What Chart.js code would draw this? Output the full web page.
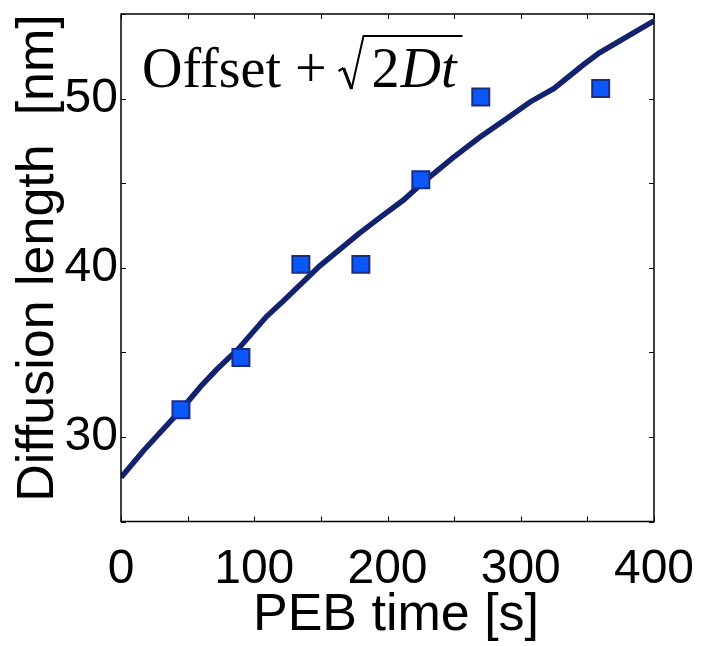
<!DOCTYPE html>
<html>
<head>
<meta charset="utf-8">
<script src="https://cdn.jsdelivr.net/npm/chart.js@4"></script>
<style>
  html, body { margin: 0; padding: 0; background: #fff; }
  #wrap { width: 702px; height: 646px; }
</style>
</head>
<body>
<div id="wrap"><canvas id="chart" width="702" height="646"></canvas></div>
<script>
// measured points
const pebTime = [45, 90, 135, 180, 225, 270, 360];
const diffLength = [31.6, 34.7, 40.2, 40.2, 45.2, 50.1, 50.6];

// fit curve
const fitTime = [0, 17, 45, 60, 72, 88, 109, 122, 149, 179, 194, 212, 226, 249, 269, 289, 307, 325, 347, 359, 374, 400];
const fitLength = [27.6, 29.2, 31.6, 33.0, 34.0, 35.2, 37.1, 38.05, 40.1, 42.05, 42.95, 44.0, 45.0, 46.5, 47.7, 48.8, 49.8, 50.6, 52.0, 52.7, 53.4, 54.6];

const xLabel = 'PEB time [s]';
const yLabel = 'Diffusion length  [nm]';

const SANS = '"Liberation Sans", Arial, Helvetica, sans-serif';
const SERIF = '"Liberation Serif", "Times New Roman", serif';

// box + inward tick marks on all four sides, titles, formula
const frame = {
  id: 'frame',
  afterDraw(chart) {
    const { ctx, chartArea: a, scales } = chart;
    ctx.save();
    ctx.strokeStyle = '#000';
    ctx.lineWidth = 1.5;
    ctx.strokeRect(a.left, a.top, a.right - a.left, a.bottom - a.top);
    ctx.beginPath();
    const len = 5;
    scales.x.ticks.forEach(t => {
      const px = Math.round(scales.x.getPixelForValue(t.value)) + 0.5;
      ctx.moveTo(px, a.bottom); ctx.lineTo(px, a.bottom - len);
      ctx.moveTo(px, a.top); ctx.lineTo(px, a.top + len);
    });
    scales.y.ticks.forEach(t => {
      const py = Math.round(scales.y.getPixelForValue(t.value)) + 0.5;
      ctx.moveTo(a.left, py); ctx.lineTo(a.left + len, py);
      ctx.moveTo(a.right, py); ctx.lineTo(a.right - len, py);
    });
    ctx.lineWidth = 1;
    ctx.stroke();

    // axis titles
    ctx.fillStyle = '#000';
    ctx.font = '52px ' + SANS;
    ctx.textAlign = 'center';
    ctx.textBaseline = 'alphabetic';
    ctx.fillText(xLabel, 396, 630);

    ctx.save();
    ctx.translate(53, 258);
    ctx.rotate(-Math.PI / 2);
    ctx.font = '52px ' + SANS;
    ctx.fillText(yLabel, 0, 0);
    ctx.restore();

    // formula label: Offset + sqrt(2Dt)
    const x0 = a.left + 21, base = a.top + 73;
    ctx.textAlign = 'left';
    ctx.font = '56px ' + SERIF;
    const head = 'Offset +';
    ctx.fillText(head, x0, base);
    let x = x0 + ctx.measureText(head).width + 12;
    // radical sign
    ctx.lineJoin = 'miter';
    ctx.beginPath();
    ctx.moveTo(x, base - 16);
    ctx.lineTo(x + 5, base - 19);
    ctx.lineWidth = 2.2;
    ctx.stroke();
    ctx.beginPath();
    ctx.moveTo(x + 5, base - 19);
    ctx.lineTo(x + 13, base + 2);
    ctx.lineWidth = 3.2;
    ctx.stroke();
    ctx.beginPath();
    ctx.moveTo(x + 13, base + 2);
    ctx.lineTo(x + 25, base - 51);
    ctx.lineTo(x + 124, base - 51);
    ctx.lineWidth = 2;
    ctx.stroke();
    x += 33;
    ctx.fillText('2', x, base);
    x += ctx.measureText('2').width + 1;
    ctx.font = 'italic 56px ' + SERIF;
    ctx.fillText('Dt', x, base);
    ctx.restore();
  }
};

new Chart(document.getElementById('chart'), {
  type: 'scatter',
  data: {
    datasets: [
      {
        label: 'data',
        data: pebTime.map((t, i) => ({ x: t, y: diffLength[i] })),
        pointStyle: 'rect',
        pointRadius: 12,
        pointHoverRadius: 12,
        backgroundColor: '#0a58fa',
        borderColor: '#1a2d85',
        borderWidth: 2
      },
      {
        label: 'fit',
        data: fitTime.map((t, i) => ({ x: t, y: fitLength[i] })),
        showLine: true,
        pointRadius: 0,
        borderColor: '#13226e',
        borderWidth: 5.5,
        tension: 0,
        fill: false
      }
    ]
  },
  options: {
    responsive: false,
    animation: false,
    layout: { padding: { left: 0, right: 48, top: 7, bottom: 0 } },
    plugins: { legend: { display: false }, tooltip: { enabled: false } },
    scales: {
      x: {
        type: 'linear',
        min: 0, max: 400,
        afterFit: s => { s.height = 124.5; s.paddingLeft = 0; s.paddingRight = 0; },
        grid: { display: false, drawTicks: false },
        border: { display: false },
        ticks: {
          stepSize: 50,
          padding: 19,
          color: '#000',
          font: { family: SANS, size: 48 },
          maxRotation: 0,
          autoSkip: false,
          callback: v => (v % 100 === 0 ? String(v) : '')
        }
      },
      y: {
        type: 'linear',
        min: 25, max: 55,
        afterFit: s => { s.width = 121; s.paddingTop = 0; s.paddingBottom = 0; },
        grid: { display: false, drawTicks: false },
        border: { display: false },
        ticks: {
          stepSize: 5,
          padding: 3,
          color: '#000',
          font: { family: SANS, size: 48 },
          autoSkip: false,
          callback: v => (v % 10 === 0 && v > 25 && v < 55 ? String(v) : '')
        }
      }
    }
  },
  plugins: [frame]
});
</script>
</body>
</html>
